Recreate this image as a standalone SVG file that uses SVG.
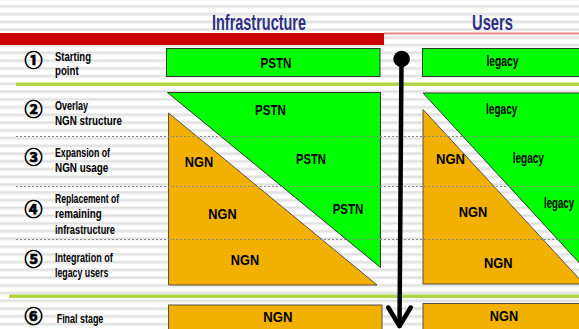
<svg xmlns="http://www.w3.org/2000/svg" width="579" height="329" viewBox="0 0 579 329">
  <defs>
    <pattern id="stripes" x="0" y="4.7" width="12" height="7.75" patternUnits="userSpaceOnUse">
      <rect width="12" height="7.75" fill="#ffffff"/>
      <rect y="0" width="12" height="1" fill="#ededed"/>
      <rect y="1" width="12" height="1.6" fill="#dddddd"/>
      <rect y="2.6" width="12" height="1" fill="#efefef"/>
    </pattern>
  </defs>
  <style>
    .title { font-family: "Liberation Sans", Arial, sans-serif; font-size: 22px; font-weight: bold; fill: #2d3184; text-anchor: middle; }
    .lbl { font-family: "Liberation Sans", Arial, sans-serif; font-size: 12.5px; font-weight: bold; fill: #000; }
    .num { font-family: "Noto Sans CJK JP", "DejaVu Sans", sans-serif; font-size: 18px; font-weight: bold; fill: #000; stroke: #000; stroke-width: 0.7; text-anchor: middle; }
    .node { font-family: "Liberation Sans", Arial, sans-serif; font-size: 15.5px; font-weight: bold; fill: #000; text-anchor: middle; }
    .green { fill: #00ff00; stroke: #2a3a2a; stroke-width: 1; }
    .orange { fill: #f2b000; stroke: #5a5040; stroke-width: 1; }
    .sep { fill: #b0d445; }
    .sep-hi { fill: #d6ea9c; }
    .dash { stroke: #8a8a8a; stroke-width: 1; stroke-dasharray: 2 2; fill: none; }
    .arrow { stroke: #000; stroke-width: 4.5; fill: none; stroke-linecap: round; stroke-linejoin: round; }
  </style>

  <!-- striped slide background -->
  <rect width="579" height="329" fill="url(#stripes)"/>

  <!-- header -->
  <g id="header">
    <rect x="0" y="33" width="384" height="12" fill="#cc0000"/>
    <rect x="384" y="32.5" width="195" height="2" fill="#e88484"/>
    <text class="title" x="259" y="30" textLength="94" lengthAdjust="spacingAndGlyphs">Infrastructure</text>
    <text class="title" x="492.5" y="30" textLength="41" lengthAdjust="spacingAndGlyphs">Users</text>
  </g>

  <!-- row separators -->
  <g id="separators">
    <rect class="sep" x="16" y="82" width="563" height="4"/>
    <rect class="sep-hi" x="16" y="82" width="563" height="1"/>
    <rect class="sep" x="9" y="294" width="570" height="4"/>
    <rect class="sep-hi" x="9" y="294" width="570" height="1"/>
  </g>

  <!-- stage labels -->
  <g id="stage1">
    <text class="num" x="33.5" y="58.8" dominant-baseline="central">①</text>
    <text class="lbl" x="55" y="61" textLength="36" lengthAdjust="spacingAndGlyphs">Starting</text>
    <text class="lbl" x="55" y="75" textLength="23.6" lengthAdjust="spacingAndGlyphs">point</text>
  </g>
  <g id="stage2">
    <text class="num" x="33.5" y="108.3" dominant-baseline="central">②</text>
    <text class="lbl" x="55" y="109.5" textLength="33" lengthAdjust="spacingAndGlyphs">Overlay</text>
    <text class="lbl" x="55" y="124.5" textLength="67" lengthAdjust="spacingAndGlyphs">NGN structure</text>
  </g>
  <g id="stage3">
    <text class="num" x="33.5" y="155.7" dominant-baseline="central">③</text>
    <text class="lbl" x="55" y="157" textLength="55" lengthAdjust="spacingAndGlyphs">Expansion of</text>
    <text class="lbl" x="55" y="172" textLength="53.3" lengthAdjust="spacingAndGlyphs">NGN usage</text>
  </g>
  <g id="stage4">
    <text class="num" x="33.5" y="208.3" dominant-baseline="central">④</text>
    <text class="lbl" x="55" y="202.5" textLength="64" lengthAdjust="spacingAndGlyphs">Replacement of</text>
    <text class="lbl" x="55" y="218" textLength="46.7" lengthAdjust="spacingAndGlyphs">remaining</text>
    <text class="lbl" x="55" y="234" textLength="60" lengthAdjust="spacingAndGlyphs">infrastructure</text>
  </g>
  <g id="stage5">
    <text class="num" x="33.5" y="258.3" dominant-baseline="central">⑤</text>
    <text class="lbl" x="55" y="262" textLength="57.7" lengthAdjust="spacingAndGlyphs">Integration of</text>
    <text class="lbl" x="55" y="277" textLength="53.3" lengthAdjust="spacingAndGlyphs">legacy users</text>
  </g>
  <g id="stage6">
    <text class="num" x="33.5" y="315" dominant-baseline="central">⑥</text>
    <text class="lbl" x="56.7" y="323" textLength="46.6" lengthAdjust="spacingAndGlyphs">Final stage</text>
  </g>

  <!-- infrastructure column -->
  <g id="infra-start">
    <rect class="green" x="166.5" y="48.5" width="213.5" height="28"/>
    <text class="node" x="276" y="68" textLength="31" lengthAdjust="spacingAndGlyphs">PSTN</text>
  </g>
  <g id="infra-pstn">
    <polygon class="green" points="167.5,92.5 380.5,92.5 380.5,267.5"/>
    <text class="node" x="270.5" y="115" textLength="31" lengthAdjust="spacingAndGlyphs">PSTN</text>
    <text class="node" x="311" y="164" textLength="30" lengthAdjust="spacingAndGlyphs">PSTN</text>
    <text class="node" x="348" y="214" textLength="30.6" lengthAdjust="spacingAndGlyphs">PSTN</text>
  </g>
  <g id="infra-ngn">
    <polygon class="orange" points="168.5,113 168.5,285 377,285"/>
    <text class="node" x="199" y="167" textLength="28.3" lengthAdjust="spacingAndGlyphs">NGN</text>
    <text class="node" x="222.5" y="219" textLength="28.3" lengthAdjust="spacingAndGlyphs">NGN</text>
    <text class="node" x="245" y="265" textLength="28.3" lengthAdjust="spacingAndGlyphs">NGN</text>
  </g>
  <g id="infra-final">
    <rect class="orange" x="168.5" y="305" width="213.5" height="40"/>
    <text class="node" x="278" y="321.5" textLength="29.3" lengthAdjust="spacingAndGlyphs">NGN</text>
  </g>

  <!-- users column -->
  <g id="users-start">
    <rect class="green" x="422.5" y="48.5" width="170" height="28"/>
    <text class="node" x="502.5" y="66" textLength="32" lengthAdjust="spacingAndGlyphs">legacy</text>
  </g>
  <g id="users-legacy">
    <polygon class="green" points="423,93 600,93 600,285 578.5,262"/>
    <text class="node" x="501.7" y="114" textLength="31.3" lengthAdjust="spacingAndGlyphs">legacy</text>
    <text class="node" x="528.3" y="163" textLength="31.3" lengthAdjust="spacingAndGlyphs">legacy</text>
    <text class="node" x="559" y="208" textLength="30" lengthAdjust="spacingAndGlyphs">legacy</text>
  </g>
  <g id="users-ngn">
    <polygon class="orange" points="423,109.5 423,284 584,284"/>
    <text class="node" x="450.5" y="164" textLength="29" lengthAdjust="spacingAndGlyphs">NGN</text>
    <text class="node" x="473" y="217" textLength="28.6" lengthAdjust="spacingAndGlyphs">NGN</text>
    <text class="node" x="498.3" y="267.5" textLength="28.6" lengthAdjust="spacingAndGlyphs">NGN</text>
  </g>
  <g id="users-final">
    <rect class="orange" x="423" y="303.5" width="170" height="40"/>
    <text class="node" x="504" y="320.7" textLength="28.3" lengthAdjust="spacingAndGlyphs">NGN</text>
  </g>

  <!-- dotted row dividers -->
  <g id="dividers">
    <line class="dash" x1="16" y1="136.5" x2="579" y2="136.5"/>
    <line class="dash" x1="16" y1="186.5" x2="579" y2="186.5"/>
    <line class="dash" x1="16" y1="239.5" x2="579" y2="239.5"/>
  </g>

  <!-- timeline arrow -->
  <g id="connectors">
    <circle cx="401.6" cy="59" r="8.3" fill="#000"/>
    <line class="arrow" x1="401.5" y1="60" x2="399.5" y2="326"/>
    <polyline class="arrow" points="388.3,307.5 399.5,326 410.7,307.5"/>
  </g>
</svg>
